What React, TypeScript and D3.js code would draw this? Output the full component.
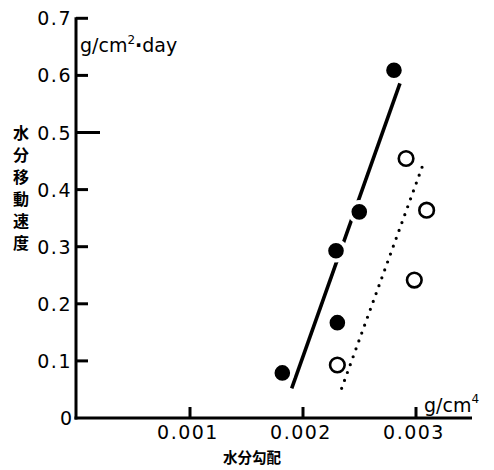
import React from "react";
import * as d3 from "d3";

const filledX = [0.002805, 0.002498, 0.002292, 0.002304, 0.001817];
const filledY = [0.609, 0.361, 0.293, 0.167, 0.079];
const openX = [0.002912, 0.003094, 0.002985, 0.002304];
const openY = [0.4545, 0.364, 0.2415, 0.0928];
const solidLineX = [0.0019, 0.002858];
const solidLineY = [0.052, 0.586];
const dottedLineX = [0.002342, 0.003055];
const dottedLineY = [0.052, 0.44];
const yTicks = [0.1, 0.2, 0.3, 0.4, 0.5, 0.6, 0.7];
const yTickLabels = ["0.1", "0.2", "0.3", "0.4", "0.5", "0.6", "0.7"];
const xTicks = [0.001, 0.002, 0.003];
const xTickLabels = ["0.001", "0.002", "0.003"];
const yTitleChars = ["水", "分", "移", "動", "速", "度"];

export default function App() {
  const W = 494, H = 470;
  const x = d3.scaleLinear().domain([0, 0.001]).range([77, 190]);
  const y = d3.scaleLinear().domain([0, 0.1]).range([418, 360.9]);
  const axisX = 76;
  const axisY = 418;
  const font = "'DejaVu Sans', sans-serif";
  const cjk = "'Noto Sans CJK JP', sans-serif";
  const line = d3.line<[number, number]>().x(d => x(d[0])).y(d => y(d[1]));
  const solid: [number, number][] = solidLineX.map((v, i) => [v, solidLineY[i]]);
  const dotted: [number, number][] = dottedLineX.map((v, i) => [v, dottedLineY[i]]);
  return (
    <svg width={W} height={H} style={{ position: "absolute", left: 0, top: 0, background: "#fff" }}>
      <rect width={W} height={H} fill="#fff" />
      {/* axes */}
      <line x1={axisX} y1={y(0.7) - 1} x2={axisX} y2={axisY + 1.5} stroke="#000" strokeWidth={3} />
      <line x1={axisX - 1.5} y1={axisY} x2={472} y2={axisY} stroke="#000" strokeWidth={3} />
      {yTicks.map((t, i) => (
        <g key={"yt" + i}>
          <line x1={axisX} x2={t === 0.5 ? 100 : 88} y1={y(t)} y2={y(t)} stroke="#000" strokeWidth={3} />
          <text x={72} y={y(t) + 7} textAnchor="end" fontFamily={font} fontSize={19} letterSpacing={1.5} fill="#000">{yTickLabels[i]}</text>
        </g>
      ))}
      <text x={66} y={axisY + 7} textAnchor="middle" fontFamily={font} fontSize={19} fill="#000">0</text>
      {xTicks.map((t, i) => (
        <g key={"xt" + i}>
          <line x1={x(t)} x2={x(t)} y1={axisY} y2={axisY - 11} stroke="#000" strokeWidth={3} />
          <text x={x(t) - 2} y={axisY + 21} textAnchor="middle" fontFamily={font} fontSize={19} letterSpacing={1.5} fill="#000">{xTickLabels[i]}</text>
        </g>
      ))}
      {/* units */}
      <text x={80} y={52} fontFamily={font} fontSize={19} fill="#000">g/cm<tspan fontSize={12} dy={-8}>2</tspan><tspan dy={8} fontWeight={700}>·</tspan><tspan>day</tspan></text>
      <text x={424} y={412} fontFamily={font} fontSize={19} fill="#000">g/cm<tspan fontSize={12} dy={-9}>4</tspan></text>
      {/* axis titles */}
      {yTitleChars.map((c, i) => (
        <text key={"yc" + i} x={21} y={133 + i * 22 + 6} textAnchor="middle" fontFamily={cjk} fontWeight={700} fontSize={16} fill="#000">{c}</text>
      ))}
      <text x={252} y={463} textAnchor="middle" fontFamily={cjk} fontWeight={700} fontSize={14.5} fill="#000">水分勾配</text>
      {/* fit lines */}
      <path d={line(solid) || ""} stroke="#000" strokeWidth={3.6} fill="none" />
      <path d={line(dotted) || ""} stroke="#000" strokeWidth={3.2} fill="none" strokeDasharray="0 8.4" strokeLinecap="round" />
      {/* points */}
      {filledX.map((v, i) => (
        <circle key={"f" + i} cx={x(v)} cy={y(filledY[i])} r={9.8} fill="#000" stroke="#fff" strokeWidth={4} />
      ))}
      {openX.map((v, i) => (
        <circle key={"o" + i} cx={x(v)} cy={y(openY[i])} r={7.3} fill="#fff" stroke="#000" strokeWidth={2.6} />
      ))}
    </svg>
  );
}
